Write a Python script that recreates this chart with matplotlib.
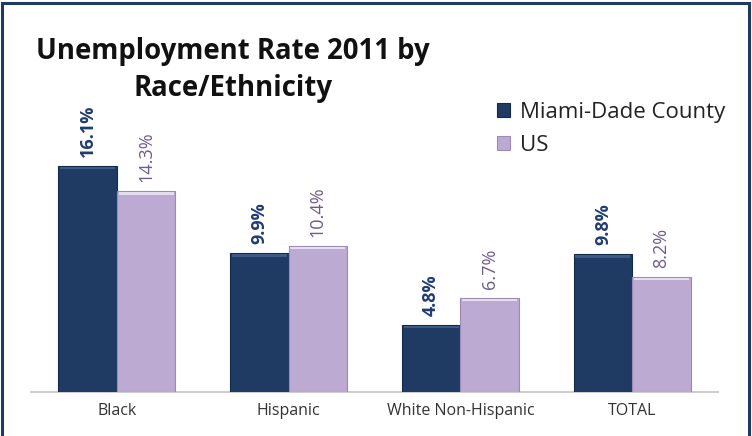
import matplotlib
matplotlib.use("Agg")
import matplotlib.pyplot as plt
from matplotlib.patches import Rectangle
import numpy as np

categories = ["Black", "Hispanic", "White Non-Hispanic", "TOTAL"]
miami_dade = [16.1, 9.9, 4.8, 9.8]
us = [14.3, 10.4, 6.7, 8.2]
series_names = ["Miami-Dade County", "US"]

navy = "#1f3b63"
lilac = "#bcaad2"
navy_text = "#1f3b73"
lilac_text = "#6e5a8c"

plt.rcParams["font.family"] = ["Open Sans", "DejaVu Sans"]

fig = plt.figure(figsize=(7.52, 4.36), dpi=100)
W, H = 752, 436

# outer frame
fig.patches.append(Rectangle((2 / W, -0.01), (749 - 2) / W, (433 - 0) / H + 0.01,
                             transform=fig.transFigure, fill=False,
                             edgecolor=navy, linewidth=2.2, zorder=10))

ax = fig.add_axes([31 / W, (436 - 392) / H, (718 - 31) / W, (392 - 60) / H])
x = np.arange(len(categories))
w = 0.34
b1 = ax.bar(x - w / 2, miami_dade, w, color=navy, edgecolor="#142a48", linewidth=0.8, zorder=3)
b2 = ax.bar(x + w / 2, us, w, color=lilac, edgecolor="#9c8ab5", linewidth=0.8, zorder=3)

# bevel highlight along bar tops
for bars, hl in ((b1, "#3b5a85"), (b2, "#e4dcef")):
    for r in bars:
        ax.bar(r.get_x() + r.get_width() / 2, 0.18, r.get_width() * 0.94,
               bottom=r.get_height() - 0.25, color=hl, linewidth=0, zorder=4)

ax.set_xlim(-0.5, 3.5)
ax.set_ylim(0, (392 - 60) / 14.04)
for s in ["top", "right", "left"]:
    ax.spines[s].set_visible(False)
ax.spines["bottom"].set_color("#c8c8c8")
ax.spines["bottom"].set_linewidth(1.3)
ax.set_yticks([])
ax.set_xticks(x)
ax.set_xticklabels(categories, fontsize=11.5, color="#333333")
ax.tick_params(axis="x", length=0, pad=8)

for xi, v in zip(x, miami_dade):
    ax.annotate(f"{v}%", (xi - w / 2, v), xytext=(0, 6.5), textcoords="offset points",
                rotation=90, ha="center", va="bottom", fontsize=13,
                fontweight="bold", color=navy_text)
for xi, v in zip(x, us):
    ax.annotate(f"{v}%", (xi + w / 2, v), xytext=(0, 6.5), textcoords="offset points",
                rotation=90, ha="center", va="bottom", fontsize=13,
                color=lilac_text)

fig.text(233 / W, 1 - 96 / H, "Unemployment Rate 2011 by\nRace/Ethnicity",
         ha="center", va="baseline", fontsize=19.8, fontweight="bold",
         color="#111111", linespacing=1.38)

leg = ax.legend([b1, b2], series_names, loc="upper left",
                bbox_to_anchor=(477 / W, 1 - 82 / H), bbox_transform=fig.transFigure,
                frameon=False, fontsize=16, handlelength=0.6, handleheight=0.6,
                handletextpad=0.45, labelspacing=0.55)
for t in leg.get_texts():
    t.set_color("#222222")

fig.savefig("out.png", dpi=100)
